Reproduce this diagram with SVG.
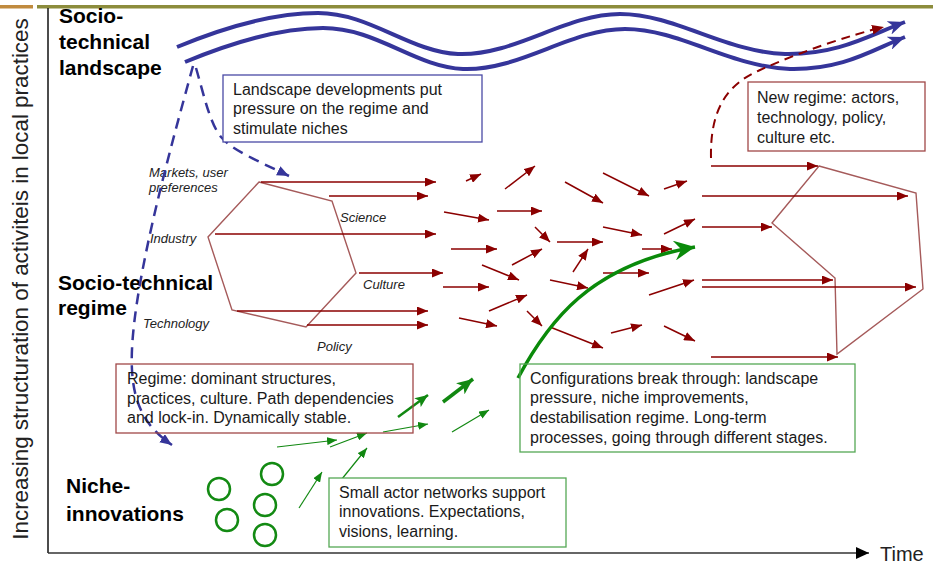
<svg xmlns="http://www.w3.org/2000/svg" width="933" height="565" viewBox="0 0 933 565">
<style>
  text { font-family: "Liberation Sans", Arial, sans-serif; fill: #1a1a1a; }
  .title { font-size: 21px; font-weight: bold; fill: #000; }
  .body { font-size: 16px; }
  .lab { font-size: 13px; font-style: italic; fill: #222; }
  .axis-t { font-size: 20px; fill: #222; }
  .ra { stroke: #8B0000; stroke-width: 1.5; fill: none; marker-end: url(#mRed); }
  .ga { stroke: #118811; stroke-width: 1.2; fill: none; marker-end: url(#mGreen); }
  .hex { fill: none; stroke: #a55a5a; stroke-width: 1.4; }
  .wave { fill: none; stroke: #35359a; stroke-width: 4; marker-end: url(#mBlue); }
  .bdash { fill: none; stroke: #35359a; stroke-width: 2.5; stroke-dasharray: 11 7; }
  .circ { fill: none; stroke: #138a13; stroke-width: 2.5; }
  .box-b { fill: #fff; stroke: #4a4aa5; stroke-width: 1.3; }
  .box-r { fill: #fff; stroke: #a04848; stroke-width: 1.3; }
  .box-g { fill: #fff; stroke: #55a855; stroke-width: 1.3; }
</style>
<defs>
  <marker id="mRed" markerUnits="userSpaceOnUse" markerWidth="11" markerHeight="9" refX="11" refY="4.5" orient="auto">
    <path d="M0,0 L11,4.5 L0,9 z" fill="#8B0000"/>
  </marker>
  <marker id="mGreen" markerUnits="userSpaceOnUse" markerWidth="10" markerHeight="8" refX="10" refY="4" orient="auto">
    <path d="M0,0 L10,4 L0,8 z" fill="#118811"/>
  </marker>
  <marker id="mGreenM" markerUnits="userSpaceOnUse" markerWidth="13" markerHeight="11" refX="13" refY="5.5" orient="auto">
    <path d="M0,0 L13,5.5 L0,11 L3,5.5 z" fill="#118811"/>
  </marker>
  <marker id="mGreenL" markerUnits="userSpaceOnUse" markerWidth="16" markerHeight="14" refX="16" refY="7" orient="auto">
    <path d="M0,0 L16,7 L0,14 L4,7 z" fill="#118811"/>
  </marker>
  <marker id="mGreenBig" markerUnits="userSpaceOnUse" markerWidth="22" markerHeight="20" refX="21" refY="10" orient="auto">
    <path d="M0,0 L21,10 L0,20 L7,10 z" fill="#0a8a0a"/>
  </marker>
  <marker id="mBlue" markerUnits="userSpaceOnUse" markerWidth="18" markerHeight="14" refX="17" refY="7" orient="auto">
    <path d="M0,0 L17,7 L0,14 L5,7 z" fill="#35359a"/>
  </marker>
  <marker id="mBlueS" markerUnits="userSpaceOnUse" markerWidth="12" markerHeight="10" refX="12" refY="5" orient="auto">
    <path d="M0,0 L12,5 L0,10 z" fill="#35359a"/>
  </marker>
  <marker id="mRedS" markerUnits="userSpaceOnUse" markerWidth="12" markerHeight="10" refX="12" refY="5" orient="auto">
    <path d="M0,0 L12,5 L0,10 z" fill="#8B0000"/>
  </marker>
  <marker id="mBlack" markerUnits="userSpaceOnUse" markerWidth="13" markerHeight="12" refX="13" refY="6" orient="auto">
    <path d="M0,0 L13,6 L0,12 z" fill="#000"/>
  </marker>
</defs>

<rect width="933" height="565" fill="#fff"/>

<!-- frame -->
<g id="frame">
  <rect x="0" y="5" width="33" height="3.5" fill="#c08a3e"/>
  <rect x="37" y="5" width="896" height="3.5" fill="#8c8c3c"/>
  <line x1="48" y1="8" x2="48" y2="553" stroke="#111" stroke-width="1.5"/>
  <line x1="48" y1="553" x2="869" y2="553" stroke="#333" stroke-width="1.5" marker-end="url(#mBlack)"/>
  <text class="axis-t" x="880" y="561">Time</text>
  <text transform="translate(28,279) rotate(-90)" text-anchor="middle" style="font-size:22.4px; fill:#222">Increasing structuration of activiteis in local practices</text>
</g>

<!-- level titles -->
<g id="title-landscape">
  <text class="title" x="59" y="23">Socio-</text>
  <text class="title" x="59" y="49">technical</text>
  <text class="title" x="59" y="75">landscape</text>
</g>
<g id="title-regime">
  <text class="title" x="58" y="290">Socio-technical</text>
  <text class="title" x="58" y="315">regime</text>
</g>
<g id="title-niche">
  <text class="title" x="66" y="493">Niche-</text>
  <text class="title" x="66" y="521">innovations</text>
</g>

<!-- landscape waves -->
<g id="landscape">
  <path class="wave" d="M177,47 C230,25 275,13 318,13 C370,13 410,52 458,54 C515,56 565,14 620,14 C675,14 725,52 785,54 C838,55 870,35 905,22"/>
  <path class="wave" d="M185,62 C238,40 283,28 323,28 C377,28 415,67 463,69 C520,71 570,29 625,29 C680,29 730,67 790,69 C843,70 872,50 905,37"/>
</g>

<!-- regime hexagons -->
<g id="regime-old">
  <polygon class="hex" points="259,182 332,201 356,273 306,327 232,310 208,237"/>
  <text class="lab" x="149" y="177">Markets, user</text>
  <text class="lab" x="149" y="192">preferences</text>
  <text class="lab" x="340" y="222">Science</text>
  <text class="lab" x="150" y="243">Industry</text>
  <text class="lab" x="363" y="289">Culture</text>
  <text class="lab" x="143" y="328">Technology</text>
  <text class="lab" x="317" y="351">Policy</text>
</g>
<g id="regime-new">
  <polygon class="hex" points="819,166 916,193 923,289 837,354 835,278 772,223"/>
</g>

<!-- niche circles -->
<g id="niches">
  <circle class="circ" cx="219" cy="489" r="11"/>
  <circle class="circ" cx="227" cy="520" r="11"/>
  <circle class="circ" cx="272" cy="474" r="11"/>
  <circle class="circ" cx="265" cy="505" r="11"/>
  <circle class="circ" cx="265" cy="535" r="11"/>
</g>

<!-- connectors -->
<g id="connectors">
  <!-- blue dashed -->
  <path class="bdash" d="M193,66 C170,150 128,300 132,370 C134,410 150,430 172,445" marker-end="url(#mBlueS)"/>
  <path class="bdash" d="M196,68 C204,95 210,125 222,138 C232,150 260,162 289,176" marker-end="url(#mBlueS)"/>
  <!-- red dashed to landscape -->
  <path d="M711,158 C710,112 725,85 760,70 C800,52 850,35 884,27" fill="none" stroke="#8B0000" stroke-width="2" stroke-dasharray="9 6" marker-end="url(#mRedS)"/>

  <!-- red arrows: old regime -->
  <line class="ra" x1="261" y1="182" x2="436" y2="182"/>
  <line class="ra" x1="329" y1="196" x2="428" y2="196"/>
  <line class="ra" x1="215" y1="234" x2="436" y2="234"/>
  <line class="ra" x1="359" y1="273" x2="443" y2="273"/>
  <line class="ra" x1="237" y1="311" x2="428" y2="311"/>
  <line class="ra" x1="307" y1="325" x2="428" y2="325"/>
  <!-- red arrows: field -->
  <line class="ra" x1="466" y1="181" x2="481" y2="174"/>
  <line class="ra" x1="505" y1="189" x2="535" y2="166"/>
  <line class="ra" x1="444" y1="212" x2="489" y2="220"/>
  <line class="ra" x1="497" y1="211" x2="542" y2="211"/>
  <line class="ra" x1="565" y1="182" x2="603" y2="203"/>
  <line class="ra" x1="603" y1="173" x2="649" y2="196"/>
  <line class="ra" x1="664" y1="189" x2="687" y2="181"/>
  <line class="ra" x1="451" y1="249" x2="497" y2="249"/>
  <line class="ra" x1="535" y1="227" x2="550" y2="242"/>
  <line class="ra" x1="557" y1="242" x2="603" y2="242"/>
  <line class="ra" x1="603" y1="227" x2="642" y2="235"/>
  <line class="ra" x1="664" y1="234" x2="695" y2="219"/>
  <line class="ra" x1="642" y1="249" x2="672" y2="249"/>
  <line class="ra" x1="482" y1="265" x2="519" y2="280"/>
  <line class="ra" x1="512" y1="265" x2="542" y2="249"/>
  <line class="ra" x1="573" y1="272" x2="588" y2="249"/>
  <line class="ra" x1="603" y1="273" x2="649" y2="273"/>
  <line class="ra" x1="443" y1="287" x2="489" y2="287"/>
  <line class="ra" x1="550" y1="280" x2="588" y2="288"/>
  <line class="ra" x1="649" y1="295" x2="694" y2="280"/>
  <line class="ra" x1="489" y1="311" x2="527" y2="295"/>
  <line class="ra" x1="459" y1="318" x2="497" y2="326"/>
  <line class="ra" x1="527" y1="311" x2="542" y2="326"/>
  <line class="ra" x1="550" y1="327" x2="603" y2="348"/>
  <line class="ra" x1="611" y1="333" x2="642" y2="325"/>
  <line class="ra" x1="664" y1="326" x2="695" y2="341"/>
  <!-- red arrows: new regime -->
  <line class="ra" x1="711" y1="166" x2="818" y2="166"/>
  <line class="ra" x1="702" y1="196" x2="908" y2="196"/>
  <line class="ra" x1="702" y1="227" x2="772" y2="227"/>
  <line class="ra" x1="702" y1="280" x2="833" y2="280"/>
  <line class="ra" x1="702" y1="287" x2="916" y2="287"/>
  <line class="ra" x1="711" y1="357" x2="838" y2="357"/>

  <!-- green niche arrows -->
  <line class="ga" x1="277" y1="447" x2="337" y2="440"/>
  <line class="ga" x1="330" y1="447" x2="367" y2="433"/>
  <line class="ga" x1="383" y1="432" x2="428" y2="424"/>
  <line class="ga" x1="452" y1="432" x2="489" y2="410"/>
  <line class="ga" x1="299" y1="508" x2="322" y2="472"/>
  <line class="ga" x1="337" y1="485" x2="367" y2="448"/>
  <line x1="398" y1="417" x2="428" y2="395" stroke="#118811" stroke-width="2.5" marker-end="url(#mGreenM)"/>
  <line x1="443" y1="402" x2="473" y2="379" stroke="#118811" stroke-width="3.5" marker-end="url(#mGreenL)"/>
  <!-- breakthrough -->
  <path d="M518,378 C548,322 590,265 695,247" fill="none" stroke="#0a8a0a" stroke-width="3.5" marker-end="url(#mGreenBig)"/>
</g>

<!-- text boxes -->
<g id="note-landscape">
  <rect class="box-b" x="223" y="75" width="259" height="67"/>
  <text class="body" x="233" y="95">Landscape developments put</text>
  <text class="body" x="233" y="114">pressure on the regime and</text>
  <text class="body" x="233" y="134">stimulate niches</text>
</g>
<g id="note-newregime">
  <rect class="box-r" x="748" y="82" width="177" height="69"/>
  <text class="body" x="757" y="103">New regime: actors,</text>
  <text class="body" x="757" y="123">technology, policy,</text>
  <text class="body" x="757" y="143">culture etc.</text>
</g>
<g id="note-regime">
  <rect class="box-r" x="116" y="364" width="297" height="69" fill-opacity="0"/>
  <text class="body" x="127" y="384">Regime: dominant structures,</text>
  <text class="body" x="127" y="404">practices, culture. Path dependencies</text>
  <text class="body" x="127" y="423">and lock-in. Dynamically stable.</text>
</g>
<g id="note-breakthrough">
  <rect class="box-g" x="520" y="364" width="335" height="88" fill-opacity="0"/>
  <text class="body" x="530" y="384">Configurations break through: landscape</text>
  <text class="body" x="530" y="403">pressure, niche improvements,</text>
  <text class="body" x="530" y="423">destabilisation regime. Long-term</text>
  <text class="body" x="530" y="443">processes, going through different stages.</text>
</g>
<g id="note-niche">
  <rect class="box-g" x="329" y="478" width="237" height="69"/>
  <text class="body" x="339" y="498">Small actor networks support</text>
  <text class="body" x="339" y="517">innovations. Expectations,</text>
  <text class="body" x="339" y="537">visions, learning.</text>
</g>
</svg>
